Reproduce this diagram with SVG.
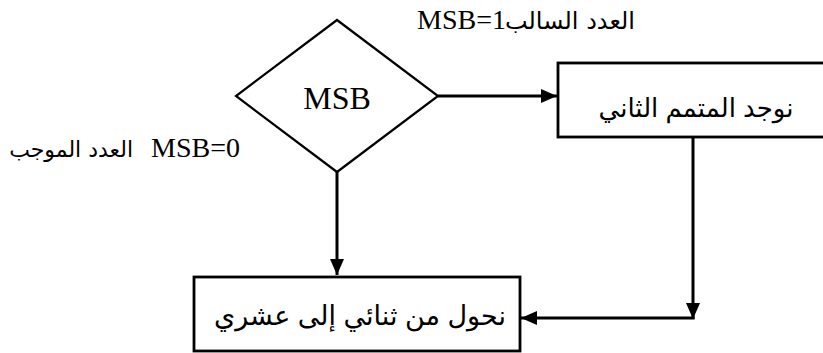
<svg xmlns="http://www.w3.org/2000/svg" width="823" height="353" viewBox="0 0 823 353">
<style>
.shape{fill:#fff;stroke:#000;stroke-width:2.8}
.dia{fill:#fff;stroke:#000;stroke-width:2.2}
.conn{fill:none;stroke:#000;stroke-width:3}
.ar{font-family:"Liberation Sans","DejaVu Sans",sans-serif;fill:#000}
.lat{font-family:"Liberation Serif",serif;fill:#000}
.lbl{font-family:"DejaVu Sans",sans-serif;font-size:22px;fill:#000}
</style>
<defs>
<marker id="arr" markerUnits="userSpaceOnUse" markerWidth="17" markerHeight="15" refX="16" refY="7" orient="auto">
<path d="M0,0 L16,7 L0,14 z" fill="#000"/>
</marker>
</defs>
<rect width="823" height="353" fill="#fff"/>
<g id="connectors">
<line class="conn" x1="438" y1="96" x2="557" y2="96" marker-end="url(#arr)"/>
<line class="conn" x1="337" y1="172" x2="337" y2="275" marker-end="url(#arr)"/>
<line class="conn" x1="693" y1="137" x2="693" y2="319" marker-end="url(#arr)"/>
<line class="conn" x1="694.5" y1="318" x2="521" y2="318" marker-end="url(#arr)"/>
</g>
<g id="decision">
<polygon class="dia" points="337,20 438,96 337,172 236,96"/>
<text class="lat" x="337" y="109" font-size="32" text-anchor="middle">MSB</text>
</g>
<g id="complement">
<rect class="shape" x="558" y="63" width="267" height="74"/>
<text class="ar" x="696" y="117" font-size="26" text-anchor="middle" direction="rtl">نوجد المتمم الثاني</text>
</g>
<g id="convert">
<rect class="shape" x="194" y="277" width="326" height="74"/>
<text class="ar" x="360" y="325" font-size="27" text-anchor="middle" direction="rtl">نحول من ثنائي إلى عشري</text>
</g>
<g id="label-negative">
<text class="lbl" x="635" y="29" font-size="24" direction="rtl" text-anchor="start" style="font-size:24px">العدد السالب</text>
<text class="lat" x="506" y="29" font-size="28" text-anchor="end">MSB=1</text>
</g>
<g id="label-positive">
<text class="lbl" x="133" y="157" direction="rtl" text-anchor="start">العدد الموجب</text>
<text class="lat" x="240" y="157" font-size="28" text-anchor="end">MSB=0</text>
</g>
</svg>
